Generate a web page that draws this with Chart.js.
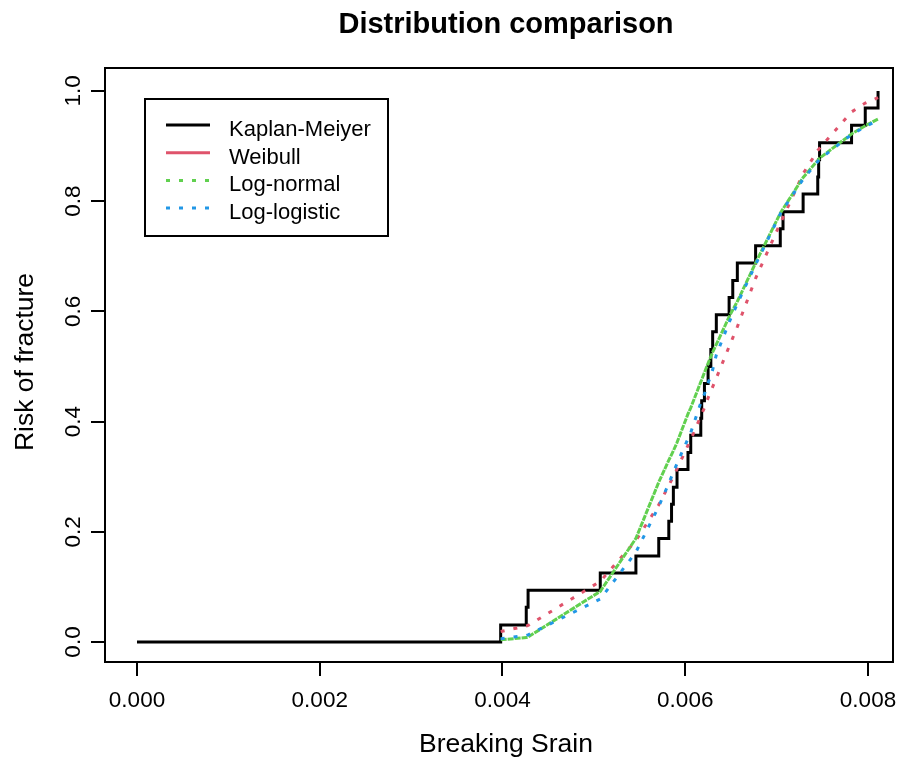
<!DOCTYPE html>
<html>
<head>
<meta charset="utf-8">
<title>Distribution comparison</title>
<script src="https://cdn.jsdelivr.net/npm/chart.js@4/dist/chart.umd.min.js"></script>
<style>
  html, body { margin: 0; padding: 0; background: #fff; }
  canvas { display: block; }
</style>
</head>
<body>
<canvas id="chart" width="909" height="760"></canvas>
<script>
// Observed breaking strains (event times) and the Kaplan-Meier risk after each event
const failureTimes = [0.00398, 0.00426, 0.00428, 0.00507, 0.00546, 0.00571, 0.00582, 0.00585,
  0.00587, 0.00591, 0.00603, 0.00606, 0.00617, 0.00618, 0.00621, 0.00625,
  0.00628, 0.00630, 0.00634, 0.00648, 0.00652, 0.00657, 0.00677, 0.00704,
  0.00707, 0.00729, 0.00745, 0.00746, 0.00747, 0.00782, 0.00797, 0.00811];
const kmRisk = [0.031, 0.063, 0.094, 0.125, 0.156, 0.188, 0.219, 0.250,
  0.281, 0.313, 0.344, 0.375, 0.406, 0.438, 0.469, 0.500,
  0.531, 0.563, 0.594, 0.625, 0.656, 0.688, 0.719, 0.750,
  0.781, 0.813, 0.844, 0.875, 0.906, 0.938, 0.969, 1.000];

// Fitted distribution functions evaluated at the same strains
const weibullRisk = [0.019, 0.029, 0.030, 0.110, 0.184, 0.249, 0.284, 0.294,
  0.301, 0.314, 0.357, 0.367, 0.410, 0.414, 0.425, 0.443,
  0.455, 0.463, 0.479, 0.536, 0.552, 0.572, 0.660, 0.760,
  0.770, 0.850, 0.892, 0.894, 0.896, 0.962, 0.978, 0.988];
const lognormalRisk = [0.004, 0.008, 0.009, 0.092, 0.188, 0.290, 0.330, 0.340,
  0.347, 0.362, 0.414, 0.425, 0.472, 0.476, 0.489, 0.506,
  0.518, 0.526, 0.540, 0.590, 0.603, 0.618, 0.688, 0.778,
  0.786, 0.843, 0.874, 0.876, 0.878, 0.922, 0.937, 0.949];
const loglogisticRisk = [0.006, 0.012, 0.013, 0.078, 0.163, 0.246, 0.288, 0.300,
  0.308, 0.324, 0.369, 0.380, 0.434, 0.437, 0.450, 0.470,
  0.483, 0.494, 0.521, 0.580, 0.595, 0.614, 0.685, 0.777,
  0.785, 0.840, 0.872, 0.874, 0.876, 0.921, 0.935, 0.947];

// Axis ticks
const xTicks = [0, 0.002, 0.004, 0.006, 0.008];
const xTickLabels = ['0.000', '0.002', '0.004', '0.006', '0.008'];
const yTicks = [0, 0.2, 0.4, 0.6, 0.8, 1.0];
const yTickLabels = ['0.0', '0.2', '0.4', '0.6', '0.8', '1.0'];

const seriesNames = ['Kaplan-Meiyer', 'Weibull', 'Log-normal', 'Log-logistic'];
const seriesColors = ['#000000', '#DF536B', '#61D04F', '#2297E6'];

const FONT = '"Liberation Sans", Arial, Helvetica, sans-serif';

const toPoints = (xs, ys) => xs.map((v, i) => ({ x: v, y: ys[i] }));
const kmPoints = [{ x: 0, y: 0 }].concat(toPoints(failureTimes, kmRisk));

// Box, tick labels, titles and legend in base-graphics style
const decorations = {
  id: 'decorations',
  afterDraw(chart) {
    const { ctx, chartArea: a, scales: { x, y } } = chart;
    ctx.save();
    ctx.strokeStyle = '#000';
    ctx.lineWidth = 2;
    ctx.setLineDash([]);
    ctx.strokeRect(a.left, a.top, a.right - a.left, a.bottom - a.top);

    ctx.fillStyle = '#000';
    ctx.textAlign = 'center';
    ctx.textBaseline = 'alphabetic';
    ctx.font = '22.5px ' + FONT;
    xTicks.forEach((v, i) => ctx.fillText(xTickLabels[i], x.getPixelForValue(v), 707));
    yTicks.forEach((v, i) => {
      ctx.save();
      ctx.translate(80, y.getPixelForValue(v));
      ctx.rotate(-Math.PI / 2);
      ctx.fillText(yTickLabels[i], 0, 0);
      ctx.restore();
    });

    ctx.font = 'bold 29px ' + FONT;
    ctx.fillText('Distribution comparison', 506, 33);

    ctx.font = '26.5px ' + FONT;
    ctx.fillText('Breaking Srain', 506, 752);
    ctx.save();
    ctx.translate(33, 362);
    ctx.rotate(-Math.PI / 2);
    ctx.fillText('Risk of fracture', 0, 0);
    ctx.restore();

    // legend
    const lx = 145, ly = 99, lw = 243, lh = 137;
    ctx.fillStyle = '#fff';
    ctx.fillRect(lx, ly, lw, lh);
    ctx.strokeStyle = '#000';
    ctx.lineWidth = 2;
    ctx.strokeRect(lx, ly, lw, lh);
    const dashes = [[], [], [4, 9], [4, 9]];
    ctx.font = '22px ' + FONT;
    ctx.textAlign = 'left';
    seriesNames.forEach((name, i) => {
      const rowY = 125 + i * 27.7;
      ctx.beginPath();
      ctx.setLineDash(dashes[i]);
      ctx.lineCap = 'butt';
      ctx.strokeStyle = seriesColors[i];
      ctx.lineWidth = 3;
      ctx.moveTo(166, rowY);
      ctx.lineTo(210, rowY);
      ctx.stroke();
      ctx.setLineDash([]);
      ctx.fillStyle = '#000';
      ctx.fillText(name, 229, rowY + 11);
    });
    ctx.restore();
  }
};

const axisCommon = {
  display: true,
  grid: { drawOnChartArea: false, drawTicks: true, tickLength: 14, color: '#000', lineWidth: 2 },
  border: { display: true, color: '#000', width: 2 },
  ticks: { display: false }
};

new Chart(document.getElementById('chart'), {
  type: 'line',
  data: {
    datasets: [
      { label: seriesNames[0], data: kmPoints, stepped: 'before', borderColor: seriesColors[0],
        borderWidth: 3, pointRadius: 0, fill: false, order: 4 },
      { label: seriesNames[1], data: toPoints(failureTimes, weibullRisk), borderColor: seriesColors[1],
        borderWidth: 3, borderDash: [4, 9], pointRadius: 0, tension: 0, fill: false, order: 3 },
      { label: seriesNames[2], data: toPoints(failureTimes, lognormalRisk), borderColor: seriesColors[2],
        borderWidth: 3, borderDash: [6, 1], pointRadius: 0, tension: 0, fill: false, order: 2 },
      { label: seriesNames[3], data: toPoints(failureTimes, loglogisticRisk), borderColor: seriesColors[3],
        borderWidth: 3, borderDash: [4, 9], pointRadius: 0, tension: 0, fill: false, order: 1 }
    ]
  },
  options: {
    responsive: false,
    animation: false,
    devicePixelRatio: 1,
    layout: { padding: { left: 91, right: 16, top: 68, bottom: 84 } },
    plugins: { legend: { display: false }, tooltip: { enabled: false }, title: { display: false } },
    scales: {
      x: Object.assign({}, axisCommon, {
        type: 'linear', position: 'bottom', min: -0.0003502, max: 0.0082736,
        afterBuildTicks: s => { s.ticks = xTicks.map(v => ({ value: v })); }
      }),
      y: Object.assign({}, axisCommon, {
        type: 'linear', position: 'left', min: -0.0363, max: 1.0417,
        afterBuildTicks: s => { s.ticks = yTicks.map(v => ({ value: v })); }
      })
    }
  },
  plugins: [decorations]
});
</script>
</body>
</html>
